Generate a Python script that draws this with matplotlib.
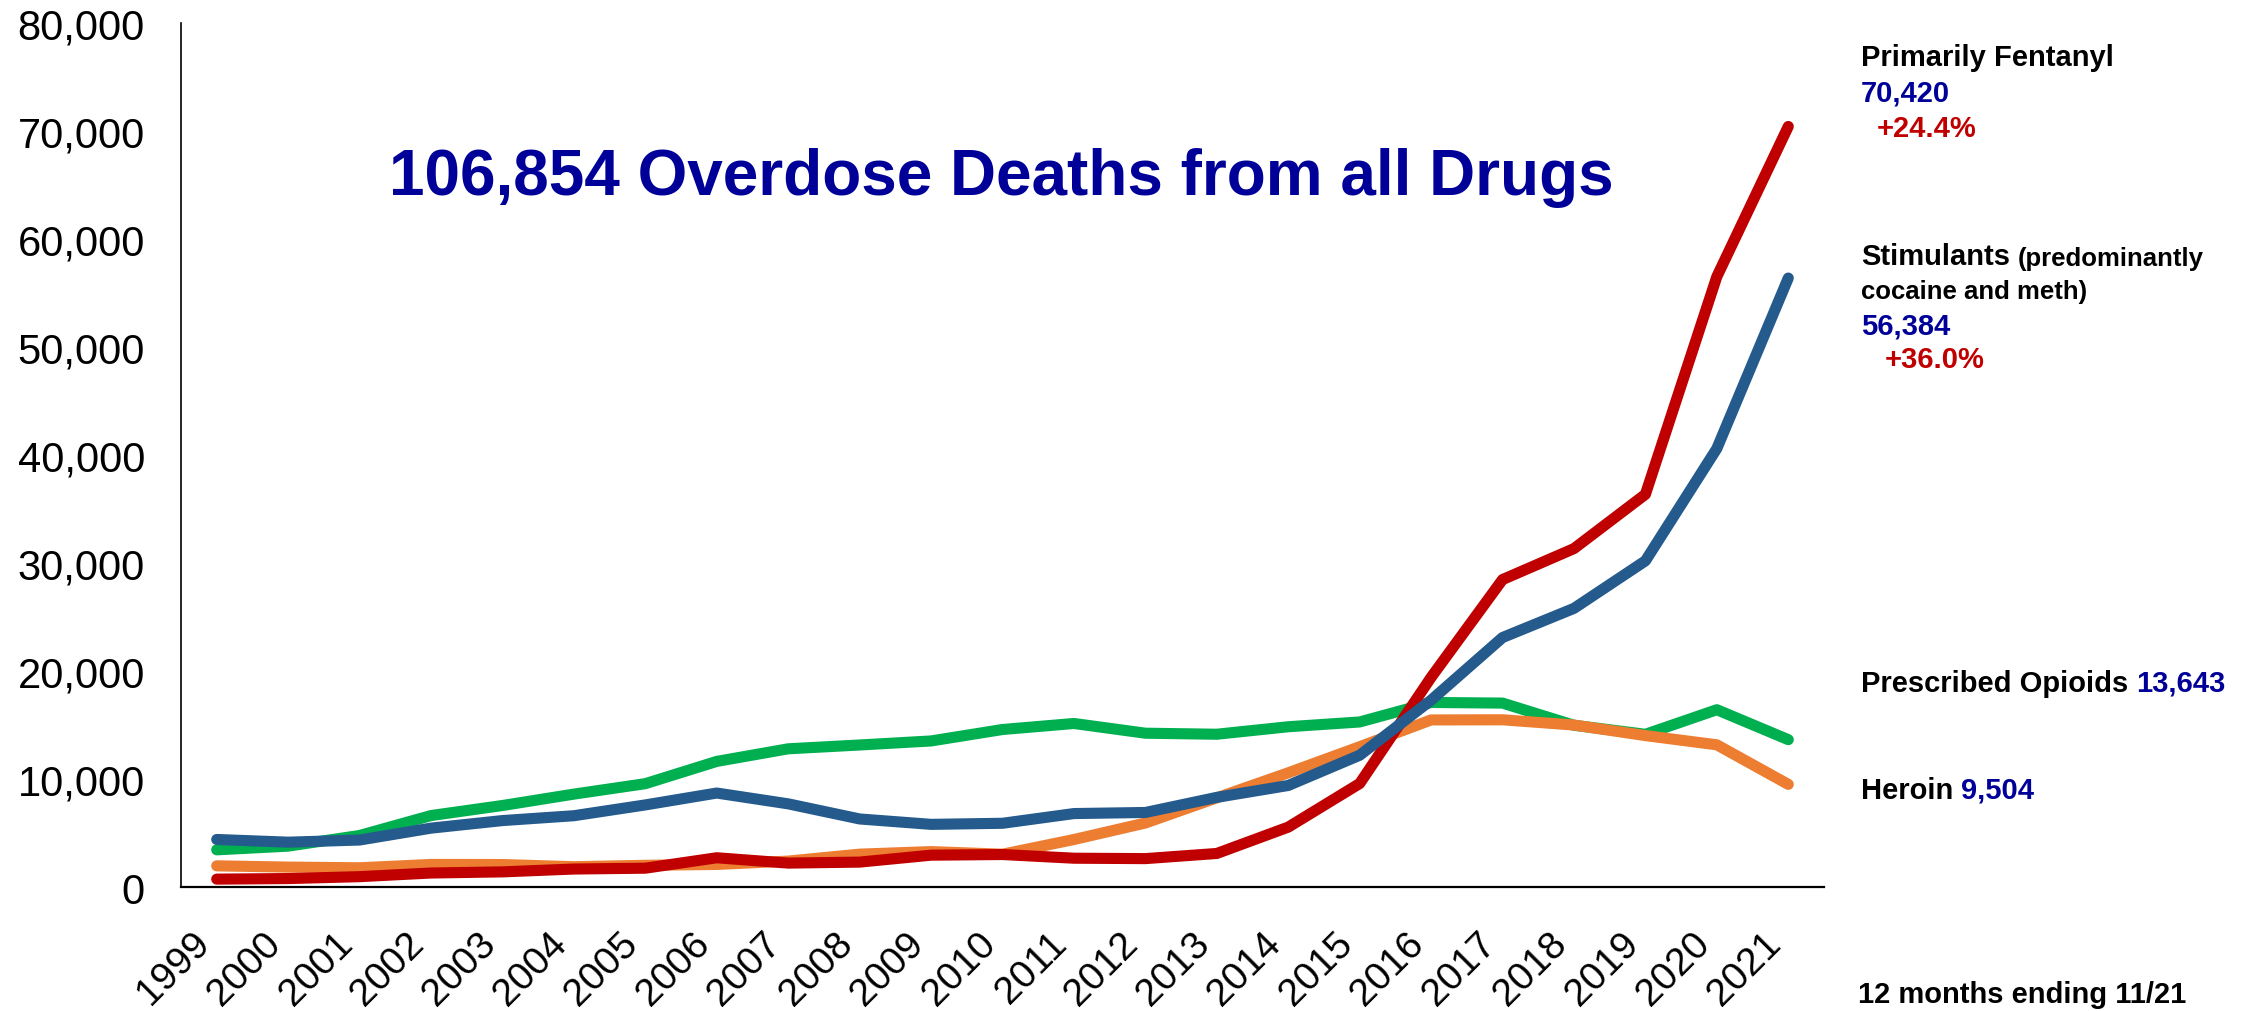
import matplotlib
matplotlib.use("Agg")
import matplotlib.pyplot as plt
from matplotlib.ticker import FuncFormatter

plt.rcParams['font.family'] = ['Liberation Sans', 'DejaVu Sans']

years = [str(y) for y in range(1999, 2022)]

# overdose deaths by drug category
fentanyl = [730, 782, 957, 1295, 1400, 1664, 1742, 2707, 2213, 2306, 2946, 3007,
            2666, 2628, 3105, 5544, 9580, 19413, 28466, 31335, 36359, 56516, 70420]
stimulants = [4400, 4150, 4350, 5450, 6150, 6600, 7600, 8700, 7700, 6300, 5800, 5900,
              6800, 6900, 8300, 9400, 12200, 17300, 23100, 25800, 30200, 40600, 56384]
prescribed = [3442, 3785, 4770, 6615, 7545, 8601, 9568, 11630, 12796, 13149, 13523, 14583,
              15140, 14240, 14145, 14838, 15281, 17087, 17029, 14975, 14139, 16416, 13643]
heroin = [1960, 1842, 1779, 2089, 2080, 1878, 2009, 2088, 2399, 3041, 3278, 3036,
          4397, 5925, 8257, 10574, 12989, 15469, 15482, 14996, 14019, 13165, 9504]

total_deaths = 106854
fentanyl_change = "+24.4%"
stimulants_change = "+36.0%"

RED = "#C00000"
BLUE = "#245A8C"
GREEN = "#00B050"
ORANGE = "#ED7D31"
NAVY = "#000099"

W, H = 2248, 1012
fig = plt.figure(figsize=(W / 100, H / 100), dpi=100)
ax = fig.add_axes([181 / W, 1 - 888 / H, (1824 - 181) / W, (888 - 24) / H])

x = range(len(years))
for vals, col, z in [(prescribed, GREEN, 2), (heroin, ORANGE, 3),
                     (fentanyl, RED, 4), (stimulants, BLUE, 5)]:
    ax.plot(x, vals, color=col, lw=8, solid_capstyle='round',
            solid_joinstyle='round', zorder=z)

ax.set_xlim(-0.5, len(years) - 0.5)
ax.set_ylim(0, 80000)
ax.set_yticks(range(0, 80001, 10000))
ax.yaxis.set_major_formatter(FuncFormatter(lambda v, p: f"{int(v):,}"))
ax.set_xticks(list(x))
ax.set_xticklabels(years, rotation=45, ha='right', va='top', fontsize=28)
ax.tick_params(axis='y', length=0, pad=26, labelsize=30)
ax.tick_params(axis='x', length=0, pad=27)

for side in ['top', 'right']:
    ax.spines[side].set_visible(False)
ax.spines['left'].set_linewidth(1.2)
ax.spines['bottom'].set_linewidth(1.6)

fig.text(1001 / W, 1 - 195 / H, f"{total_deaths:,} Overdose Deaths from all Drugs",
         color=NAVY, fontsize=46, fontweight='bold', ha='center', va='baseline')


def put(xp, yp, s, color='black', size=21):
    # bold label with its baseline at pixel position (xp, yp) from the top left
    return fig.text(xp / W, 1 - yp / H, s, color=color, fontsize=size,
                    fontweight='bold', ha='left', va='baseline')


def after(prev, s, color='black', size=21, gap=5.8):
    # continue a line of text right after a previous piece
    return ax.annotate(s, xy=(1, 0), xycoords=prev, xytext=(gap, 0),
                       textcoords='offset points', color=color, fontsize=size,
                       fontweight='bold', ha='left', va='bottom',
                       annotation_clip=False)


put(1861, 66, "Primarily Fentanyl")
put(1861, 101, f"{fentanyl[-1]:,}", NAVY)
put(1877, 137, fentanyl_change, RED)

t = put(1861, 265, "Stimulants")
after(t, "(predominantly", size=18.5)
put(1861, 299, "cocaine and meth)", size=18.5)
put(1861, 335, f"{stimulants[-1]:,}", NAVY)
put(1885, 368, stimulants_change, RED)

t = put(1861, 692, "Prescribed Opioids")
after(t, f"{prescribed[-1]:,}", NAVY)

t = put(1861, 799, "Heroin")
after(t, f"{heroin[-1]:,}", NAVY)

put(1858, 1003, "12 months ending 11/21")

fig.savefig("out.png", dpi=100)
